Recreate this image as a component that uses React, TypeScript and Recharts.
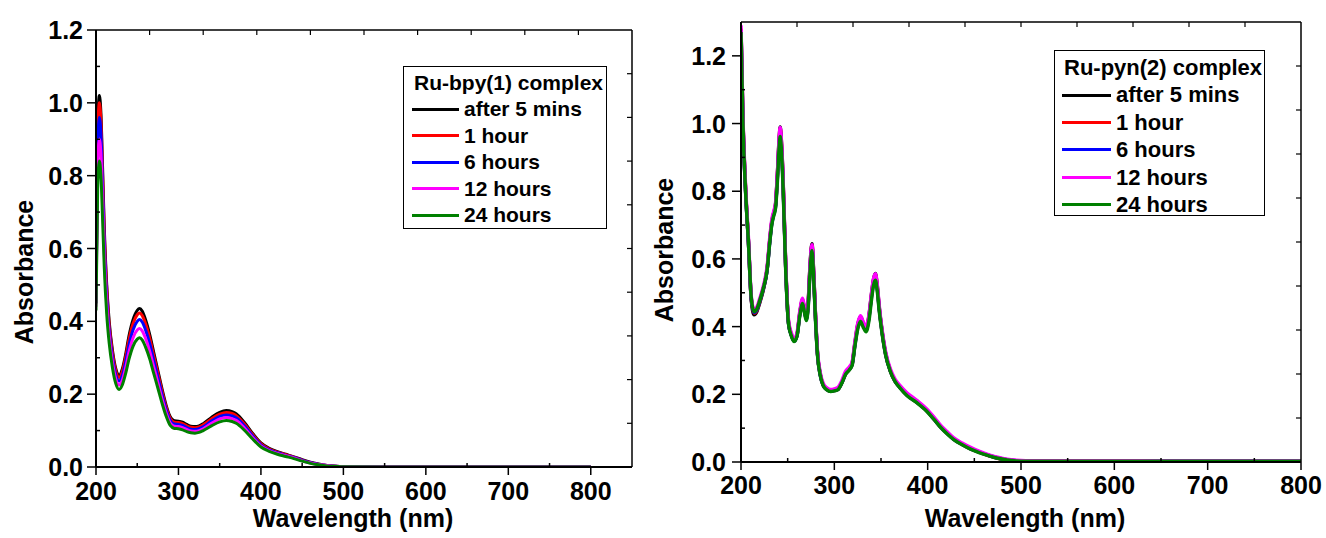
import React from 'react';
import { LineChart, Line, XAxis, YAxis, Legend, Label } from 'recharts';

const FONT = "'Liberation Sans', Arial, Helvetica, sans-serif";

const seriesNames = ['after 5 mins', '1 hour', '6 hours', '12 hours', '24 hours'];
const seriesKeys = ['m5', 'h1', 'h6', 'h12', 'h24'];
const seriesColors = ['#000000', '#ff0000', '#0000ff', '#ff00ff', '#008000'];

// Ru-bpy(1) complex
const bpyWavelength = [
  200, 202, 204, 206, 208, 210, 213, 216, 220, 224, 228, 232, 236, 240, 245, 250, 253, 256, 260, 265,
  270, 275, 280, 285, 290, 295, 300, 305, 310, 315, 320, 325, 330, 340, 350, 358, 365, 370, 380, 390,
  400, 410, 420, 430, 440, 450, 460, 470, 480, 490, 500, 550, 600, 650, 700, 750, 800,
];
const bpyMin5 = [
  0.45, 0.92, 1.02, 0.97, 0.82, 0.66, 0.5, 0.4, 0.32, 0.27, 0.252, 0.27, 0.31, 0.36, 0.405, 0.43, 0.435, 0.428, 0.405, 0.365,
  0.315, 0.265, 0.215, 0.17, 0.138, 0.127, 0.126, 0.123, 0.117, 0.112, 0.111, 0.113, 0.119, 0.136, 0.15, 0.155, 0.152, 0.146, 0.122, 0.092,
  0.066, 0.051, 0.042, 0.035, 0.028, 0.02, 0.013, 0.008, 0.004, 0.002, 0.001, 0, 0, 0, 0, 0, 0,
];
const bpyHour1 = [
  0.45, 0.9, 1.0, 0.95, 0.8, 0.645, 0.49, 0.39, 0.313, 0.264, 0.246, 0.263, 0.302, 0.35, 0.394, 0.418, 0.423, 0.416, 0.394, 0.355,
  0.306, 0.258, 0.209, 0.165, 0.134, 0.123, 0.122, 0.119, 0.113, 0.109, 0.108, 0.11, 0.116, 0.132, 0.145, 0.15, 0.147, 0.141, 0.118, 0.089,
  0.064, 0.049, 0.041, 0.034, 0.027, 0.019, 0.012, 0.007, 0.004, 0.002, 0.001, 0, 0, 0, 0, 0, 0,
];
const bpyHour6 = [
  0.45, 0.87, 0.96, 0.915, 0.77, 0.62, 0.47, 0.375, 0.3, 0.253, 0.236, 0.252, 0.289, 0.335, 0.377, 0.4, 0.405, 0.398, 0.377, 0.34,
  0.293, 0.247, 0.2, 0.158, 0.128, 0.118, 0.117, 0.114, 0.108, 0.104, 0.103, 0.105, 0.11, 0.126, 0.139, 0.143, 0.14, 0.135, 0.113, 0.085,
  0.061, 0.047, 0.039, 0.032, 0.026, 0.018, 0.012, 0.007, 0.004, 0.002, 0.001, 0, 0, 0, 0, 0, 0,
];
const bpyHour12 = [
  0.44, 0.82, 0.9, 0.86, 0.73, 0.59, 0.45, 0.36, 0.287, 0.242, 0.225, 0.239, 0.273, 0.316, 0.355, 0.376, 0.38, 0.374, 0.354, 0.319,
  0.275, 0.232, 0.188, 0.149, 0.121, 0.112, 0.111, 0.108, 0.103, 0.099, 0.098, 0.1, 0.105, 0.12, 0.132, 0.136, 0.133, 0.128, 0.107, 0.081,
  0.058, 0.045, 0.037, 0.031, 0.025, 0.017, 0.011, 0.007, 0.004, 0.002, 0.001, 0, 0, 0, 0, 0, 0,
];
const bpyHour24 = [
  0.43, 0.76, 0.84, 0.8, 0.68, 0.55, 0.42, 0.34, 0.272, 0.229, 0.213, 0.226, 0.257, 0.296, 0.332, 0.351, 0.355, 0.349, 0.33, 0.298,
  0.257, 0.217, 0.176, 0.14, 0.114, 0.106, 0.105, 0.102, 0.097, 0.094, 0.093, 0.095, 0.1, 0.113, 0.124, 0.128, 0.125, 0.12, 0.101, 0.077,
  0.055, 0.043, 0.035, 0.029, 0.023, 0.016, 0.01, 0.006, 0.003, 0.002, 0.001, 0, 0, 0, 0, 0, 0,
];

// Ru-pyn(2) complex
const pynWavelength = [
  200, 202, 205, 208, 211, 214, 217, 220, 224, 228, 231, 233, 235, 237, 239, 241, 242, 243, 245, 248,
  251, 254, 257, 260, 263, 266, 268, 270, 272, 274, 276, 278, 280, 282, 285, 288, 292, 296, 300, 304,
  308, 312, 316, 319, 322, 325, 328, 331, 334, 337, 340, 342, 344, 346, 348, 351, 355, 360, 365, 370,
  378, 388, 399, 407, 414, 421, 428, 437, 446, 455, 465, 475, 485, 495, 505, 520, 550, 600, 650, 700,
  750, 800,
];
const pynMin5 = [
  1.28, 1.02, 0.8, 0.65, 0.48, 0.435, 0.445, 0.47, 0.51, 0.57, 0.66, 0.71, 0.735, 0.76, 0.85, 0.96, 0.99, 0.96, 0.84, 0.57,
  0.41, 0.375, 0.358, 0.375, 0.44, 0.48, 0.45, 0.425, 0.47, 0.58, 0.645, 0.55, 0.42, 0.32, 0.258, 0.228, 0.215, 0.21, 0.212, 0.216,
  0.235, 0.262, 0.275, 0.29, 0.35, 0.405, 0.43, 0.41, 0.395, 0.43, 0.5, 0.54, 0.557, 0.52, 0.46, 0.39, 0.32, 0.27, 0.24, 0.222,
  0.198, 0.178, 0.152, 0.127, 0.104, 0.085, 0.068, 0.053, 0.04, 0.03, 0.02, 0.012, 0.007, 0.004, 0.003, 0.003, 0.003, 0.003, 0.002, 0.002,
  0.002, 0.002,
];
const pynHour1 = [
  1.28, 1.015, 0.8, 0.65, 0.482, 0.44, 0.448, 0.472, 0.512, 0.57, 0.66, 0.708, 0.733, 0.758, 0.846, 0.955, 0.985, 0.955, 0.836, 0.568,
  0.41, 0.375, 0.358, 0.374, 0.438, 0.477, 0.448, 0.423, 0.467, 0.576, 0.64, 0.546, 0.418, 0.319, 0.257, 0.227, 0.214, 0.209, 0.211, 0.215,
  0.234, 0.26, 0.273, 0.288, 0.347, 0.401, 0.426, 0.407, 0.392, 0.427, 0.496, 0.535, 0.552, 0.516, 0.457, 0.388, 0.318, 0.269, 0.239, 0.221,
  0.197, 0.177, 0.151, 0.126, 0.103, 0.084, 0.067, 0.052, 0.039, 0.029, 0.019, 0.011, 0.006, 0.003, 0.002, 0.002, 0.002, 0.002, 0.001, 0.001,
  0.001, 0.001,
];
const pynHour6 = [
  1.275, 1.01, 0.795, 0.648, 0.483, 0.442, 0.45, 0.474, 0.513, 0.568, 0.656, 0.705, 0.73, 0.755, 0.84, 0.948, 0.978, 0.948, 0.83, 0.565,
  0.408, 0.374, 0.357, 0.373, 0.436, 0.474, 0.446, 0.421, 0.464, 0.572, 0.636, 0.542, 0.415, 0.318, 0.256, 0.227, 0.214, 0.209, 0.211, 0.215,
  0.234, 0.26, 0.273, 0.287, 0.345, 0.398, 0.423, 0.405, 0.39, 0.424, 0.492, 0.531, 0.548, 0.513, 0.455, 0.387, 0.318, 0.269, 0.239, 0.221,
  0.197, 0.177, 0.151, 0.126, 0.103, 0.084, 0.067, 0.052, 0.039, 0.029, 0.02, 0.012, 0.007, 0.004, 0.003, 0.003, 0.003, 0.003, 0.002, 0.002,
  0.002, 0.002,
];
const pynHour12 = [
  1.29, 1.03, 0.81, 0.66, 0.49, 0.45, 0.458, 0.482, 0.52, 0.578, 0.668, 0.716, 0.74, 0.765, 0.852, 0.962, 0.988, 0.962, 0.845, 0.576,
  0.417, 0.381, 0.364, 0.381, 0.445, 0.484, 0.455, 0.43, 0.474, 0.582, 0.642, 0.552, 0.424, 0.325, 0.263, 0.233, 0.219, 0.214, 0.216, 0.221,
  0.24, 0.268, 0.281, 0.295, 0.354, 0.408, 0.432, 0.414, 0.399, 0.433, 0.502, 0.541, 0.556, 0.523, 0.464, 0.394, 0.325, 0.275, 0.245, 0.227,
  0.204, 0.183, 0.157, 0.132, 0.108, 0.089, 0.071, 0.056, 0.043, 0.032, 0.022, 0.014, 0.008, 0.005, 0.004, 0.004, 0.004, 0.004, 0.003, 0.003,
  0.003, 0.003,
];
const pynHour24 = [
  1.27, 1.005, 0.795, 0.648, 0.485, 0.444, 0.452, 0.476, 0.514, 0.568, 0.654, 0.702, 0.727, 0.75, 0.83, 0.935, 0.962, 0.935, 0.82, 0.56,
  0.406, 0.372, 0.356, 0.372, 0.432, 0.468, 0.442, 0.418, 0.458, 0.562, 0.625, 0.535, 0.41, 0.315, 0.255, 0.226, 0.213, 0.208, 0.21, 0.214,
  0.233, 0.259, 0.272, 0.285, 0.342, 0.392, 0.415, 0.398, 0.385, 0.416, 0.484, 0.522, 0.537, 0.505, 0.449, 0.383, 0.316, 0.268, 0.238, 0.22,
  0.196, 0.176, 0.15, 0.125, 0.102, 0.083, 0.066, 0.051, 0.038, 0.028, 0.019, 0.011, 0.006, 0.003, 0.002, 0.002, 0.002, 0.002, 0.002, 0.002,
  0.002, 0.002,
];

// ticks
const xMajor = [200, 300, 400, 500, 600, 700, 800];
const xMinor = [250, 350, 450, 550, 650, 750];
const yMajor = [0, 0.2, 0.4, 0.6, 0.8, 1.0, 1.2];
const yMinor = [0.1, 0.3, 0.5, 0.7, 0.9, 1.1];
const bpyTopTicks = [265, 330, 395, 460, 525, 590, 655, 720, 785];
const bpyRightTicks = [0.12, 0.24, 0.36, 0.48, 0.6, 0.72, 0.84, 0.96, 1.08];
const pynTopTicks = [260, 320, 380, 440, 500, 560, 620, 680, 740];
const pynRightTicks = [0.13, 0.26, 0.39, 0.52, 0.65, 0.78, 0.91, 1.04, 1.17];

const buildRows = (wl: number[], series: number[][]) =>
  wl.map((w, i) => {
    const row: Record<string, number> = { wl: w };
    series.forEach((s, k) => {
      row[seriesKeys[k]] = s[i];
    });
    return row;
  });

const bpyRows = buildRows(bpyWavelength, [bpyMin5, bpyHour1, bpyHour6, bpyHour12, bpyHour24]);
const pynRows = buildRows(pynWavelength, [pynMin5, pynHour1, pynHour6, pynHour12, pynHour24]);

const near = (list: number[], v: number) => list.some((m) => Math.abs(m - v) < 1e-6);
const sortTicks = (a: number[], b: number[]) => [...a, ...b].sort((p, q) => p - q);

const txt = { fontFamily: FONT, fontWeight: 'bold' as const, fill: '#000' };

const bottomTick = (dy: number) => (p: any) => {
  const v = p.payload.value;
  const major = near(xMajor, v);
  return (
    <g>
      <line x1={p.x} x2={p.x} y1={p.y} y2={major ? p.y + 8 : p.y - 4} stroke="#000" strokeWidth={1.5} />
      {major && (
        <text x={p.x} y={p.y + dy} textAnchor="middle" fontSize={25} {...txt}>
          {v}
        </text>
      )}
    </g>
  );
};

const leftTick = (gap: number) => (p: any) => {
  const v = p.payload.value;
  const major = near(yMajor, v);
  return (
    <g>
      <line x1={p.x} x2={major ? p.x - 9 : p.x + 4} y1={p.y} y2={p.y} stroke="#000" strokeWidth={1.5} />
      {major && (
        <text x={p.x - gap} y={p.y + 9} textAnchor="end" fontSize={25} {...txt}>
          {v.toFixed(1)}
        </text>
      )}
    </g>
  );
};

const topTick = (p: any) => <line x1={p.x} x2={p.x} y1={p.y} y2={p.y + 5} stroke="#000" strokeWidth={1.2} />;
const rightTick = (p: any) => <line x1={p.x} x2={p.x - 5} y1={p.y} y2={p.y} stroke="#000" strokeWidth={1.2} />;

interface LegendCfg {
  title: string;
  left: number;
  top: number;
  w: number;
  h: number;
  fs: number;
  padTop: number;
  row: number;
  titleX: number;
  lineX: number;
  lineW: number;
}

const legendContent = (cfg: LegendCfg) => (props: any) => {
  const items = [...(props.payload || [])].sort(
    (a: any, b: any) => seriesNames.indexOf(a.value) - seriesNames.indexOf(b.value)
  );
  return (
    <div
      style={{
        width: cfg.w,
        height: cfg.h,
        boxSizing: 'border-box',
        border: '1px solid #000',
        background: '#fff',
        fontFamily: FONT,
        fontWeight: 'bold',
        fontSize: cfg.fs,
        color: '#000',
        paddingTop: cfg.padTop,
      }}
    >
      <div style={{ height: cfg.row, lineHeight: `${cfg.row}px`, paddingLeft: cfg.titleX, whiteSpace: 'nowrap' }}>
        {cfg.title}
      </div>
      {items.map((it: any) => (
        <div key={it.value} style={{ height: cfg.row, display: 'flex', alignItems: 'center', whiteSpace: 'nowrap' }}>
          <span
            style={{ display: 'inline-block', marginLeft: cfg.lineX, width: cfg.lineW, height: 3, background: it.color, marginRight: 5 }}
          />
          <span style={{ lineHeight: `${cfg.row}px` }}>{it.value}</span>
        </div>
      ))}
    </div>
  );
};

interface PanelProps {
  rows: Record<string, number>[];
  left: number;
  width: number;
  margin: { top: number; right: number; bottom: number; left: number };
  yAxisWidth: number;
  xDomain: [number, number];
  yDomain: [number, number];
  topTicks: number[];
  rightTicks: number[];
  xLabelDy: number;
  yLabelGap: number;
  yTitle: { x: number; y: number };
  xTitle: { x: number; y: number };
  strokeWidth: number;
  legend: LegendCfg;
}

const Panel: React.FC<PanelProps> = (c) => (
  <div style={{ position: 'absolute', left: c.left, top: 0 }}>
    <LineChart width={c.width} height={538} data={c.rows} margin={c.margin}>
      <XAxis
        dataKey="wl"
        type="number"
        domain={c.xDomain}
        allowDataOverflow
        ticks={sortTicks(xMajor, xMinor)}
        interval={0}
        height={60}
        tickSize={0}
        tickMargin={0}
        tickLine={false}
        axisLine={{ stroke: '#000', strokeWidth: 2 }}
        tick={bottomTick(c.xLabelDy)}
      >
        <Label
          content={() => (
            <text x={c.xTitle.x} y={c.xTitle.y} textAnchor="middle" fontSize={25} {...txt}>
              Wavelength (nm)
            </text>
          )}
        />
      </XAxis>
      <XAxis
        xAxisId="top"
        orientation="top"
        dataKey="wl"
        type="number"
        domain={c.xDomain}
        allowDataOverflow
        ticks={c.topTicks}
        interval={0}
        height={1}
        tickSize={0}
        tickMargin={0}
        tickLine={false}
        axisLine={{ stroke: '#000', strokeWidth: 1.5 }}
        tick={topTick}
      />
      <YAxis
        type="number"
        domain={c.yDomain}
        allowDataOverflow
        ticks={sortTicks(yMajor, yMinor)}
        interval={0}
        width={c.yAxisWidth}
        tickSize={0}
        tickMargin={0}
        tickLine={false}
        axisLine={{ stroke: '#000', strokeWidth: 2 }}
        tick={leftTick(c.yLabelGap)}
      >
        <Label
          content={() => (
            <text
              x={c.yTitle.x}
              y={c.yTitle.y}
              transform={`rotate(-90, ${c.yTitle.x}, ${c.yTitle.y})`}
              textAnchor="middle"
              fontSize={25}
              {...txt}
            >
              Absorbance
            </text>
          )}
        />
      </YAxis>
      <YAxis
        yAxisId="right"
        orientation="right"
        type="number"
        domain={c.yDomain}
        allowDataOverflow
        ticks={c.rightTicks}
        interval={0}
        width={1}
        tickSize={0}
        tickMargin={0}
        tickLine={false}
        axisLine={{ stroke: '#000', strokeWidth: 1.5 }}
        tick={rightTick}
      />
      {seriesKeys.map((k, i) => (
        <Line
          key={k}
          type="monotone"
          dataKey={k}
          name={seriesNames[i]}
          stroke={seriesColors[i]}
          strokeWidth={c.strokeWidth}
          dot={false}
          activeDot={false}
          isAnimationActive={false}
        />
      ))}
      <Legend
        layout="vertical"
        align="center"
        verticalAlign="middle"
        wrapperStyle={{ left: c.legend.left, top: c.legend.top, width: c.legend.w, height: c.legend.h }}
        content={legendContent(c.legend)}
      />
    </LineChart>
  </div>
);

export default function App() {
  return (
    <div style={{ position: 'absolute', left: 0, top: 0, width: 1326, height: 538, background: '#fff', overflow: 'hidden' }}>
      <Panel
        rows={bpyRows}
        left={0}
        width={640}
        margin={{ top: 29, right: 7, bottom: 11, left: 10 }}
        yAxisWidth={86}
        xDomain={[200, 850]}
        yDomain={[0, 1.2]}
        topTicks={bpyTopTicks}
        rightTicks={bpyRightTicks}
        xLabelDy={33}
        yLabelGap={13}
        yTitle={{ x: 33, y: 272 }}
        xTitle={{ x: 353, y: 527 }}
        strokeWidth={3}
        legend={{
          title: 'Ru-bpy(1) complex',
          left: 403,
          top: 66,
          w: 204,
          h: 163,
          fs: 21,
          padTop: 3,
          row: 26.4,
          titleX: 10,
          lineX: 8,
          lineW: 47,
        }}
      />
      <Panel
        rows={pynRows}
        left={640}
        width={686}
        margin={{ top: 21, right: 24, bottom: 16, left: 10 }}
        yAxisWidth={91}
        xDomain={[200, 800]}
        yDomain={[0, 1.3]}
        topTicks={pynTopTicks}
        rightTicks={pynRightTicks}
        xLabelDy={32}
        yLabelGap={15}
        yTitle={{ x: 33, y: 250 }}
        xTitle={{ x: 385, y: 527 }}
        strokeWidth={3.5}
        legend={{
          title: 'Ru-pyn(2) complex',
          left: 414,
          top: 50,
          w: 211,
          h: 166,
          fs: 22,
          padTop: 3,
          row: 27.4,
          titleX: 9,
          lineX: 7,
          lineW: 49,
        }}
      />
    </div>
  );
}
